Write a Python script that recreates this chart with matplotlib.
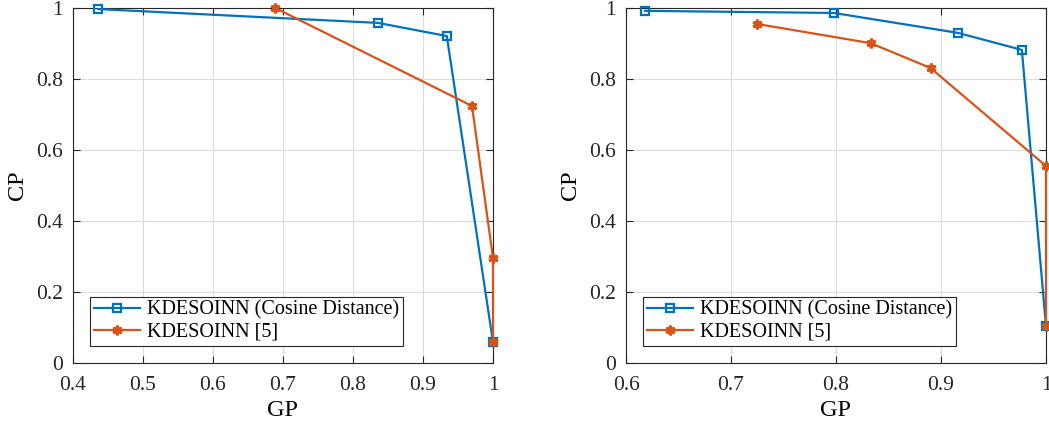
import numpy as np
import matplotlib.pyplot as plt

plt.rcParams['font.family'] = ['Liberation Serif', 'DejaVu Serif']
plt.rcParams['mathtext.fontset'] = 'stix'

BLUE = '#0072BD'
ORANGE = '#D95319'

# Left panel
left_cos_gp = [0.436, 0.836, 0.934, 1.0]
left_cos_cp = [0.997, 0.958, 0.921, 0.059]
left_ref_gp = [0.689, 0.970, 1.0, 1.0]
left_ref_cp = [1.0, 0.724, 0.296, 0.059]

# Right panel
right_cos_gp = [0.618, 0.798, 0.916, 0.977, 1.0]
right_cos_cp = [0.992, 0.986, 0.930, 0.882, 0.104]
right_ref_gp = [0.725, 0.833, 0.890, 1.0, 1.0]
right_ref_cp = [0.955, 0.901, 0.831, 0.555, 0.104]

labels = ['KDESOINN (Cosine Distance)', 'KDESOINN [5]']


def draw_panel(ax, cos_gp, cos_cp, ref_gp, ref_cp, xlim, xticks, xticklabels):
    ax.plot(cos_gp, cos_cp, color=BLUE, linewidth=1.6, marker='s', markersize=6,
            markerfacecolor='none', markeredgewidth=1.6, label=labels[0], clip_on=False, zorder=3)
    ax.plot(ref_gp, ref_cp, color=ORANGE, linewidth=1.6, marker=(6, 2, 0), markersize=7,
            markeredgewidth=2.2, label=labels[1], clip_on=False, zorder=4)
    ax.set_xlim(xlim)
    ax.set_ylim(0, 1)
    ax.set_xticks(xticks)
    ax.set_xticklabels(xticklabels)
    ax.set_yticks([0, 0.2, 0.4, 0.6, 0.8, 1])
    ax.set_yticklabels(['0', '0.2', '0.4', '0.6', '0.8', '1'])
    ax.tick_params(direction='in', top=True, right=True, labelsize=15.5, length=5,
                   colors='#262626', width=0.8)
    ax.tick_params(axis='x', pad=9)
    ax.tick_params(axis='y', pad=7)
    for s in ax.spines.values():
        s.set_color('#262626')
        s.set_linewidth(0.8)
    ax.grid(True, color='#dcdcdc', linewidth=0.8)
    ax.set_axisbelow(True)
    ax.set_xlabel('GP', fontsize=17.5, labelpad=4)
    ax.set_ylabel('CP', fontsize=17.5, labelpad=6)
    leg = ax.legend(loc='lower left', bbox_to_anchor=(0.04, 0.048), fontsize=14.5,
                    fancybox=False, framealpha=1, edgecolor='#262626',
                    handlelength=2.3, borderpad=0.2, labelspacing=0.15,
                    handletextpad=0.35, borderaxespad=0)
    leg.get_frame().set_linewidth(0.8)


fig = plt.figure(figsize=(10.49, 4.30), dpi=100)
ax1 = fig.add_axes([73 / 1049, 67 / 430, 420 / 1049, 355 / 430])
ax2 = fig.add_axes([626 / 1049, 67 / 430, 420 / 1049, 355 / 430])

draw_panel(ax1, left_cos_gp, left_cos_cp, left_ref_gp, left_ref_cp,
           (0.4, 1.0), [0.4, 0.5, 0.6, 0.7, 0.8, 0.9, 1.0],
           ['0.4', '0.5', '0.6', '0.7', '0.8', '0.9', '1'])
draw_panel(ax2, right_cos_gp, right_cos_cp, right_ref_gp, right_ref_cp,
           (0.6, 1.0), [0.6, 0.7, 0.8, 0.9, 1.0],
           ['0.6', '0.7', '0.8', '0.9', '1'])

fig.savefig('out.png', dpi=100)
